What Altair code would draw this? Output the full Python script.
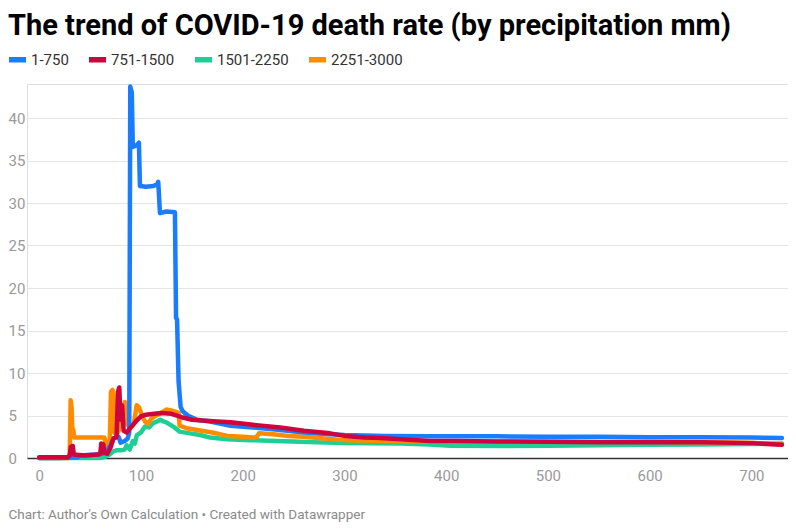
import altair as alt
import pandas as pd

# ---- data ----
series_names = ["1-750", "751-1500", "1501-2250", "2251-3000"]
series_colors = ["#1a7dff", "#d0043c", "#1dcf94", "#ff8c00"]

blue_x = [0, 20, 38, 40, 55, 62, 66, 70, 73, 78, 80, 84, 87, 88.5, 89.5, 91, 92, 96, 98, 99, 105, 112, 116, 117,
          118.7, 125, 133.4, 134.5, 135.5, 137, 139, 141, 146, 155, 168, 188, 210, 237, 260, 286, 300, 340, 384,
          450, 500, 550, 600, 650, 700, 730]
blue_y = [0, 0, 0.1, 0.3, 0.4, 0.5, 0.8, 1.5, 2.3, 2.5, 1.8, 2.0, 2.3, 3.0, 43.7, 43.0, 36.6, 36.8, 37.1, 32.0, 31.9,
          32.0, 32.2, 32.5, 28.8, 29.0, 28.9, 16.5, 16.3, 9.0, 6.0, 5.5, 5.0, 4.5, 4.3, 3.8, 3.6, 3.3, 3.0, 2.8, 2.7,
          2.6, 2.55, 2.55, 2.5, 2.5, 2.45, 2.45, 2.4, 2.35]

red_x = [0, 28, 30, 31, 33, 34, 45, 58, 60, 61, 63, 64, 67, 70, 73, 76, 77.5, 78.7, 80, 81.5, 83, 86, 90, 95, 100,
         105, 113, 120, 130, 140, 150, 160, 175, 188, 210, 237, 260, 286, 300, 320, 335, 384, 410, 450, 500, 551,
         600, 650, 700, 730]
red_y = [0.1, 0.1, 0.3, 1.3, 1.4, 0.4, 0.3, 0.4, 0.5, 1.7, 1.6, 0.6, 0.5, 1.2, 2.3, 2.5, 7.8, 8.3, 4.5, 6.2, 3.2,
         3.0, 3.6, 4.3, 4.9, 5.1, 5.2, 5.3, 5.2, 4.8, 4.5, 4.4, 4.3, 4.2, 3.9, 3.6, 3.2, 2.9, 2.6, 2.4, 2.35, 2.0,
         2.0, 1.95, 1.9, 1.85, 1.85, 1.85, 1.75, 1.55]

green_x = [0, 60, 66, 70, 73, 76, 80, 84, 86, 89, 92, 94, 96, 100, 104, 108, 112, 116, 119, 122, 125, 129, 133,
           138, 148, 158, 168, 185, 207, 256, 300, 355, 384, 404, 450, 500, 551, 600, 650, 700, 730]
green_y = [0, 0, 0.2, 0.5, 0.8, 0.9, 0.9, 1.0, 1.5, 1.0, 2.0, 1.7, 2.7, 3.0, 3.7, 3.6, 4.1, 4.3, 4.5, 4.3, 4.2,
           3.9, 3.6, 3.1, 2.9, 2.7, 2.4, 2.2, 2.1, 1.9, 1.75, 1.7, 1.6, 1.45, 1.4, 1.45, 1.5, 1.55, 1.6, 1.65, 1.7]

orange_x = [0, 29, 30, 30.9, 31.8, 32.5, 33.5, 34.5, 45, 55, 64, 66, 68, 69.5, 70.5, 72, 73, 74, 76, 78, 82, 84.3,
            86, 90, 93, 95.8, 98, 101, 104, 107, 110, 115, 120, 125, 130, 135, 137, 138, 145, 155, 170, 185, 200,
            210, 214, 216, 230, 245, 260, 280, 300, 350, 400, 500, 600, 700, 730]
orange_y = [0, 0, 0.5, 6.8, 6.0, 3.5, 3.3, 2.4, 2.4, 2.4, 2.4, 1.5, 1.0, 2.5, 7.8, 8.0, 7.6, 3.0, 2.7, 3.2, 5.0,
            6.6, 4.0, 3.6, 4.0, 6.2, 6.0, 5.0, 4.3, 4.0, 4.6, 5.0, 5.3, 5.7, 5.6, 5.4, 5.3, 3.8, 3.5, 3.3, 3.0, 2.6,
            2.5, 2.4, 2.5, 2.9, 2.8, 2.6, 2.5, 2.3, 2.1, 2.0, 1.9, 1.9, 1.9, 1.8, 1.6]

x_ticks = [0, 100, 200, 300, 400, 500, 600, 700]
y_ticks = [0, 5, 10, 15, 20, 25, 30, 35, 40]

title_text = "The trend of COVID-19 death rate (by precipitation mm)"
footer_text = "Chart: Author's Own Calculation \u2022 Created with Datawrapper"

rows = []
for name, xs, ys in [("1-750", blue_x, blue_y), ("751-1500", red_x, red_y),
                     ("1501-2250", green_x, green_y), ("2251-3000", orange_x, orange_y)]:
    for a, b in zip(xs, ys):
        rows.append({"series": name, "day": a, "rate": b})
df = pd.DataFrame(rows)

color = alt.Color(
    "series:N",
    scale=alt.Scale(domain=series_names, range=series_colors),
    legend=alt.Legend(
        title=None, orient="none", direction="horizontal", legendX=-21, legendY=-36,
        symbolType="stroke", symbolSize=289, symbolStrokeWidth=5.5,
        labelFont="Roboto", labelFontSize=15, labelColor="#333333",
        labelOffset=2, columnPadding=9,
    ),
)

x_enc = alt.X(
    "day:Q",
    scale=alt.Scale(domain=[-12, 736], nice=False, zero=False),
    axis=alt.Axis(
        values=x_ticks, grid=False, ticks=False, domainColor="#333333", domainWidth=1.5,
        labelFont="Roboto", labelFontSize=15, labelColor="#9a9a9a", labelBaseline="middle",
        labelPadding=17, title=footer_text, titleFont="Roboto", titleFontSize=13.5,
        titleFontWeight="normal", titleColor="#8a8a8a", titleAnchor="start", titleAlign="left",
        titleBaseline="middle", titleX=-19, titleY=56,
    ),
)
y_enc = alt.Y(
    "rate:Q",
    scale=alt.Scale(domain=[0, 44], nice=False),
    axis=alt.Axis(
        values=y_ticks, title=None, domain=False, ticks=False, labelAlign="left",
        labelPadding=19, labelFont="Roboto", labelFontSize=15, labelColor="#9a9a9a",
        gridColor="#e5e5e5", gridWidth=1,
    ),
)

base = alt.Chart(df)
layers = []
for name in ["1501-2250", "2251-3000", "1-750", "751-1500"]:
    layers.append(
        base.transform_filter(alt.datum.series == name)
        .mark_line(strokeWidth=4.5, strokeCap="round", strokeJoin="round")
        .encode(x=x_enc, y=y_enc, color=color)
    )

chart = alt.layer(*layers).properties(
    width=761,
    height=374,
    autosize=alt.AutoSizeParams(type="none"),
    padding={"left": 19, "top": 76, "right": 0, "bottom": 64},
    title=alt.TitleParams(
        title_text, anchor="start", frame="group", dx=-19, font="Roboto",
        fontSize=29, fontWeight="bold", color="#000000", offset=7,
    ),
).configure_view(stroke=None).configure(background="white")

chart.save("out.html", embed_options={"renderer": "svg", "actions": False})
